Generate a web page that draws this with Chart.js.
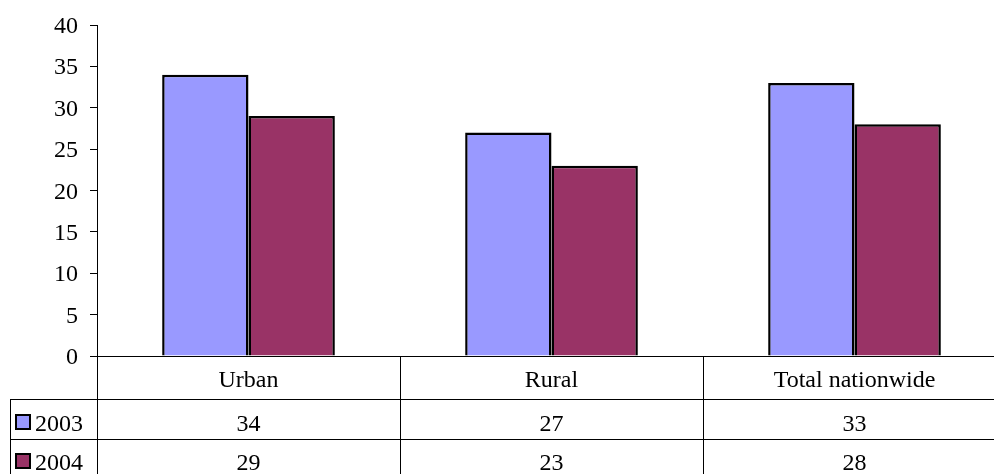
<!DOCTYPE html>
<html>
<head>
<meta charset="utf-8">
<script src="https://cdn.jsdelivr.net/npm/chart.js@4/dist/chart.umd.min.js"></script>
<style>
    html, body { margin: 0; padding: 0; background: #fff; overflow: hidden; }
    #wrap { width: 994px; height: 474px; overflow: hidden; position: relative; }
    canvas { display: block; }
    #fontwarm { position: absolute; left: -200px; top: 0; font: 24px "Liberation Serif"; }
</style>
</head>
<body>
<div id="wrap"><canvas id="chart" width="1010" height="474"></canvas></div>
<span id="fontwarm">Urban 2003</span>
<script>
var categories = ['Urban', 'Rural', 'Total nationwide'];
var seriesNames = ['2003', '2004'];
var values2003 = [34, 27, 33];
var values2004 = [29, 23, 28];
var seriesColors = ['#9999FF', '#993366'];

var FONT = '"Liberation Serif", "Times New Roman", serif';

function label(ctx, text, x, baseline, align) {
    ctx.save();
    ctx.font = '24px ' + FONT;
    ctx.textBaseline = 'alphabetic';
    ctx.textAlign = align;
    ctx.fillStyle = '#000';
    ctx.fillText(text, x, baseline);
    ctx.restore();
}

var dataTablePlugin = {
    id: 'dataTable',
    afterDraw: function(chart) {
        var ctx = chart.ctx;
        var area = chart.chartArea;
        var x = chart.scales.x;
        var y = chart.scales.y;
        var colW = area.width / categories.length;
        var zeroY = y.getPixelForValue(0);
        var row1 = 399.5, row2 = 439.5, bottom = 474;

        // y tick labels
        y.ticks.forEach(function(t) {
            label(ctx, String(t.value), 78, y.getPixelForValue(t.value) + 8, 'right');
        });

        ctx.save();
        ctx.strokeStyle = '#000';
        ctx.lineWidth = 1;
        ctx.beginPath();
        ctx.moveTo(area.left - 7, Math.round(zeroY) + 0.5);
        ctx.lineTo(area.right, Math.round(zeroY) + 0.5);
        ctx.moveTo(10, row1); ctx.lineTo(area.right, row1);
        ctx.moveTo(10, row2); ctx.lineTo(area.right, row2);
        ctx.moveTo(10.5, row1); ctx.lineTo(10.5, bottom);
        ctx.moveTo(area.left + 0.5, area.top); ctx.lineTo(area.left + 0.5, bottom);
        for (var i = 1; i < categories.length; i++) {
            var cx = Math.round(area.left + colW * i) + 0.5;
            ctx.moveTo(cx, zeroY); ctx.lineTo(cx, bottom);
        }
        ctx.stroke();
        ctx.restore();

        var baselines = [431, 470];
        categories.forEach(function(c, i) {
            var cx = x.getPixelForValue(i);
            label(ctx, c, cx, 387, 'center');
            label(ctx, String(values2003[i]), cx, baselines[0], 'center');
            label(ctx, String(values2004[i]), cx, baselines[1], 'center');
        });

        // legend keys in the table
        seriesNames.forEach(function(name, s) {
            var top = baselines[s] - 17;
            ctx.save();
            ctx.fillStyle = seriesColors[s];
            ctx.fillRect(15, top, 16, 16);
            ctx.lineWidth = 2;
            ctx.strokeStyle = '#000';
            ctx.strokeRect(16, top + 1, 14, 14);
            ctx.restore();
            label(ctx, name, 35, baselines[s], 'left');
        });
    }
};

function buildChart() {
    var ctx = document.getElementById('chart').getContext('2d');
    new Chart(ctx, {
        type: 'bar',
        data: {
            labels: categories,
            datasets: [
                {
                    label: seriesNames[0],
                    data: values2003,
                    backgroundColor: seriesColors[0],
                    borderColor: '#000',
                    borderWidth: 2.5,
                    categoryPercentage: 0.57,
                    barPercentage: 1
                },
                {
                    label: seriesNames[1],
                    data: values2004,
                    backgroundColor: seriesColors[1],
                    borderColor: '#000',
                    borderWidth: 2.5,
                    categoryPercentage: 0.57,
                    barPercentage: 1
                }
            ]
        },
        options: {
            responsive: false,
            animation: false,
            layout: {
                padding: { top: 25, right: 4, bottom: 118, left: 0 }
            },
            scales: {
                x: {
                    display: false
                },
                y: {
                    min: 0,
                    max: 40,
                    ticks: {
                        stepSize: 5,
                        display: false
                    },
                    grid: {
                        drawOnChartArea: false,
                        tickLength: 7,
                        color: '#000'
                    },
                    border: { display: true, color: '#000', width: 1 },
                    afterFit: function(scale) { scale.width = 97; }
                }
            },
            plugins: {
                legend: { display: false },
                tooltip: { enabled: false }
            }
        },
        plugins: [dataTablePlugin]
    });
}

if (document.fonts && document.fonts.load) {
    document.fonts.load('24px "Liberation Serif"').then(buildChart, buildChart);
} else {
    buildChart();
}
</script>
</body>
</html>
